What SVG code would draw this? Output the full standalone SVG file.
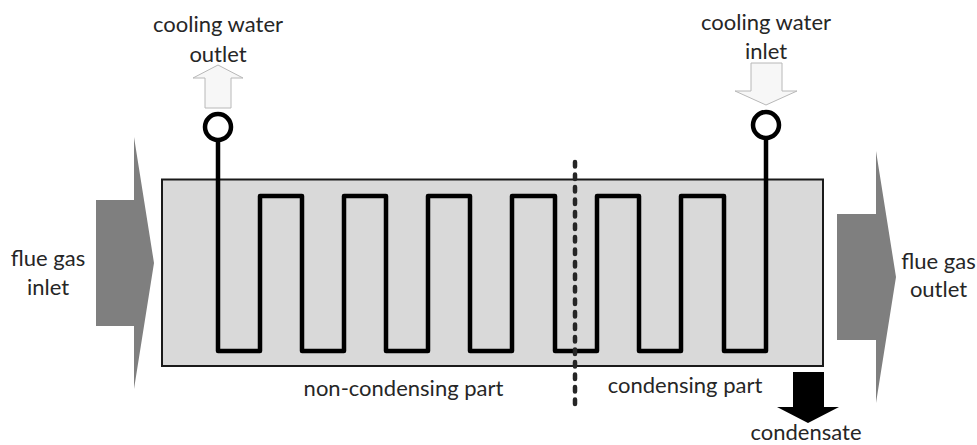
<svg xmlns="http://www.w3.org/2000/svg" width="977" height="445" viewBox="0 0 977 445">
<style>
.t{font-family:"Lato","Open Sans","Liberation Sans",sans-serif;font-size:22px;fill:#262626;text-anchor:middle}
.pipe{fill:none;stroke:#000;stroke-width:4.500;stroke-linejoin:round}
.port{fill:#fff;stroke:#000;stroke-width:4.500}
.gas{fill:#7f7f7f}
.water{fill:#f7f7f7;stroke:#b8b8b8;stroke-width:1}
</style>
<rect width="977" height="445" fill="#fff"/>
<g id="exchanger"><rect x="162" y="179.500" width="661" height="186.500" fill="#d9d9d9" stroke="#1a1a1a" stroke-width="2"/></g>
<g id="flue-gas-inlet"><path class="gas" d="M96 200H134V137L154 263L134 389V326H96Z"/><text class="t" x="48" y="266">flue gas</text><text class="t" x="48" y="295">inlet</text></g>
<g id="flue-gas-outlet"><path class="gas" d="M837 214H876V151L896 277L876 403V340H837Z"/><text class="t" x="938.500" y="269">flue gas</text><text class="t" x="938.500" y="297">outlet</text></g>
<g id="cooling-water-outlet"><path class="water" d="M218 65L193 78H205V108H231V78H243Z"/><text class="t" x="218" y="32">cooling water</text><text class="t" x="218" y="62">outlet</text></g>
<g id="cooling-water-inlet"><path class="water" d="M751 63H782V91H797L766 105L735 91H751Z"/><text class="t" x="766" y="30">cooling water</text><text class="t" x="766" y="59">inlet</text></g>
<g id="condensate"><path fill="#000" d="M793 372H824V407H839L808 423L777 407H793Z"/><text class="t" x="806" y="440">condensate</text></g>
<g id="connectors">
<path class="pipe" d="M218 140V351H260V196H302V351H344V196H386V351H428V196H470V351H512V196H555V351H597V196H639V351H681V196H724V351H766V138"/>
<circle class="port" cx="218" cy="127" r="13"/>
<circle class="port" cx="766" cy="125" r="13"/>
<path d="M575 162V407" fill="none" stroke="#262626" stroke-width="4.500" stroke-linecap="round" stroke-dasharray="4.500 8"/>
</g>
<text class="t" x="403.500" y="396">non-condensing part</text>
<text class="t" x="685" y="393">condensing part</text>
</svg>
